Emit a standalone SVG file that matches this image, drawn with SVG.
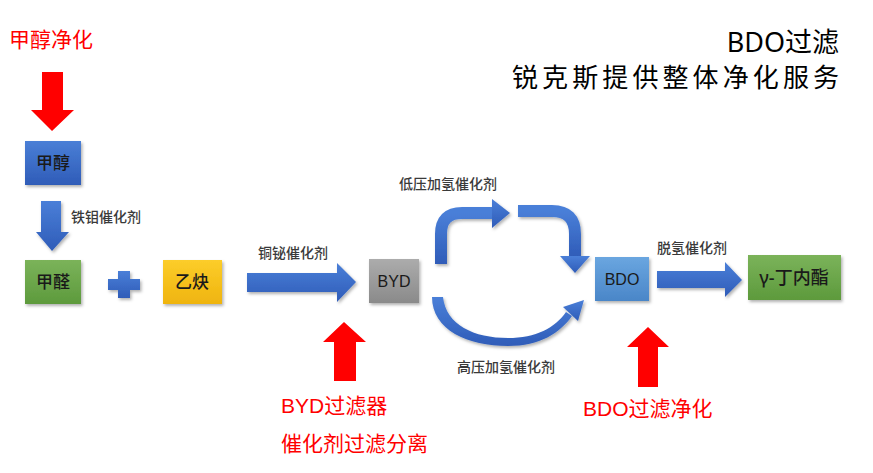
<svg xmlns="http://www.w3.org/2000/svg" width="873" height="473" viewBox="0 0 873 473">
<defs>
<style>
.red{font-family:"Liberation Sans","Noto Sans CJK SC",sans-serif;fill:#ff0000;font-size:21px}
.title{font-family:"Noto Sans","Noto Sans CJK SC",sans-serif;fill:#000;font-size:26px;font-weight:400}
.lbl{font-family:"Noto Sans CJK SC",sans-serif;fill:#3a3a3a;font-size:14px;font-weight:500}
.bt{font-family:"Noto Sans","Noto Sans CJK SC",sans-serif;fill:#1a1a1a;font-size:17px;text-anchor:middle;font-weight:500}
.lt{font-family:"Liberation Sans",sans-serif;fill:#1a1a1a;font-size:17px;text-anchor:middle}
.ra{fill:#ff0000}
.ba{fill:url(#gArrow)}
</style>
<linearGradient id="gBlue" x1="0" y1="0" x2="0" y2="1"><stop offset="0" stop-color="#4a7fd6"/><stop offset="1" stop-color="#2f5cb8"/></linearGradient>
<linearGradient id="gGreen" x1="0" y1="0" x2="0" y2="1"><stop offset="0" stop-color="#7bb35a"/><stop offset="1" stop-color="#5d9a3c"/></linearGradient>
<linearGradient id="gYellow" x1="0" y1="0" x2="0" y2="1"><stop offset="0" stop-color="#fccd2a"/><stop offset="1" stop-color="#efb40f"/></linearGradient>
<linearGradient id="gGray" x1="0" y1="0" x2="0" y2="1"><stop offset="0" stop-color="#acacac"/><stop offset="1" stop-color="#8a8a8a"/></linearGradient>
<linearGradient id="gLBlue" x1="0" y1="0" x2="0" y2="1"><stop offset="0" stop-color="#6aa6e0"/><stop offset="1" stop-color="#4a86c8"/></linearGradient>
<linearGradient id="gArrow" x1="0" y1="0" x2="0" y2="1"><stop offset="0" stop-color="#4a7fd8"/><stop offset="1" stop-color="#2f5cb8"/></linearGradient>
<filter id="sh" x="-20%" y="-20%" width="150%" height="150%"><feDropShadow dx="1.5" dy="2" stdDeviation="1.5" flood-color="#000" flood-opacity="0.3"/></filter>
</defs>
<rect width="873" height="473" fill="#fff"/>

<g id="title">
<text class="title" x="839" y="52" text-anchor="end" style="font-size:27px">BDO过滤</text>
<text class="title" x="512" y="87" textLength="327" lengthAdjust="spacing">锐克斯提供整体净化服务</text>
</g>

<g id="red-labels">
<text class="red" x="9" y="47">甲醇净化</text>
<text class="red" x="281" y="413">BYD过滤器</text>
<text class="red" x="281" y="451">催化剂过滤分离</text>
<text class="red" x="583" y="416">BDO过滤净化</text>
</g>

<g id="connectors">
<polygon class="ra" points="42,72 63,72 63,110 74,110 52,131 31,110 42,110"/>
<polygon class="ra" points="334,381 356,381 356,342 366,342 344,322 323,342 334,342"/>
<polygon class="ra" points="638,387 658,387 658,347 669,347 648,327 627,347 638,347"/>
<g filter="url(#sh)">
<polygon class="ba" points="41,201 61,201 61,232 69,232 52,251 36,232 41,232"/>
<path class="ba" d="M118,271 h12 v8 h10 v11 h-10 v8 h-12 v-8 h-10 v-11 h10 z"/>
<polygon class="ba" points="247,273 337,273 337,263 356,282 337,302 337,292 247,292"/>
<polygon class="ba" points="657,271 725,271 725,262 742,280 725,297 725,288 657,288"/>
<path d="M441,264 L441,234 Q441,213 462,213 L494,213" fill="none" stroke="url(#gArrow)" stroke-width="12"/>
<polygon class="ba" points="492,199 510,213 492,228"/>
<path d="M518,211 L552,211 Q575,211 575,234 L575,257" fill="none" stroke="url(#gArrow)" stroke-width="12"/>
<polygon class="ba" points="560,256 590,256 575,273"/>
<path class="ba" d="M432,297 C432,330 468,346 508,346 C540,346 560,333 572,316 L566,312 C555,328 536,338 508,338 C474,338 446,325 443,297 Z"/>
<polygon class="ba" points="563,307 584,300 578,321"/>
</g>
</g>

<g id="edge-labels">
<text class="lbl" x="71" y="222">铁钼催化剂</text>
<text class="lbl" x="258" y="258">铜铋催化剂</text>
<text class="lbl" x="399" y="189">低压加氢催化剂</text>
<text class="lbl" x="457" y="372">高压加氢催化剂</text>
<text class="lbl" x="657" y="253">脱氢催化剂</text>
</g>

<g id="node-methanol"><rect x="25" y="141" width="56" height="44" fill="url(#gBlue)" filter="url(#sh)"/><text class="bt" x="53" y="169">甲醇</text></g>
<g id="node-formaldehyde"><rect x="25" y="260" width="56" height="44" fill="url(#gGreen)" filter="url(#sh)"/><text class="bt" x="53" y="288">甲醛</text></g>
<g id="node-acetylene"><rect x="163" y="260" width="59" height="44" fill="url(#gYellow)" filter="url(#sh)"/><text class="bt" x="192" y="288">乙炔</text></g>
<g id="node-byd"><rect x="369" y="259" width="50" height="44" fill="url(#gGray)" filter="url(#sh)"/><text class="lt" x="394" y="287" style="font-size:16px">BYD</text></g>
<g id="node-bdo"><rect x="595" y="257" width="54" height="44" fill="url(#gLBlue)" filter="url(#sh)"/><text class="lt" x="622" y="285" style="font-size:16px">BDO</text></g>
<g id="node-gbl"><rect x="748" y="255" width="93" height="45" fill="url(#gGreen)" filter="url(#sh)"/><text class="bt" x="794" y="284" style="font-size:18px">γ-丁内酯</text></g>
</svg>
